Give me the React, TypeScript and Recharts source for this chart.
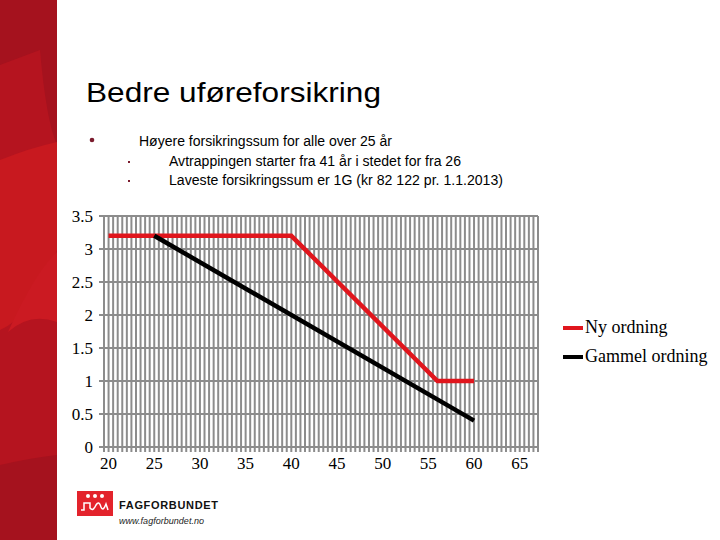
import { CartesianGrid, Legend, Line, LineChart, XAxis, YAxis } from "recharts";

// forsikringssum i G, etter alder
const nyOrdning = [
  { alder: 20, sum: 3.2 },
  { alder: 40, sum: 3.2 },
  { alder: 56, sum: 1 },
  { alder: 60, sum: 1 },
];

const gammelOrdning = [
  { alder: 25, sum: 3.2 },
  { alder: 60, sum: 0.4 },
];

const seriesNames = ["Ny ordning", "Gammel ordning"];
const xLabels = [20, 25, 30, 35, 40, 45, 50, 55, 60, 65];
const yTicks = [0, 0.5, 1, 1.5, 2, 2.5, 3, 3.5];
const xDomain: [number, number] = [19.5, 67];

// vertical grid every half year across the axis
const xGrid = Array.from(
  { length: (xDomain[1] - xDomain[0]) / 0.5 + 1 },
  (_, i) => xDomain[0] + i * 0.5
);

const bullets = [
  { text: "Høyere forsikringssum for alle over 25 år", level: 0 },
  { text: "Avtrappingen starter fra 41 år i stedet for fra 26", level: 1 },
  { text: "Laveste forsikringssum er 1G (kr 82 122 pr. 1.1.2013)", level: 1 },
];

const serif = '"Liberation Serif", "DejaVu Serif", serif';
const sans = '"Liberation Sans", Arial, sans-serif';
const gridColor = "#8c8c8c";

// axis labels drawn as html over the chart so the serif face is certain
function AxisLabels() {
  return null;
}

const renderXTick = (props: any) => {
  const { x, y, payload } = props;
  if (!xLabels.includes(payload.value)) return <g />;
  return (
    <g transform={`translate(${x},${y})`}>
      <text
        x={0}
        y={13}
        textAnchor="middle"
        fontFamily={serif}
        fontSize={17}
        fill="#000"
        style={{ fontFamily: serif }}
      >
        {String(payload.value)}
      </text>
    </g>
  );
};

const renderYTick = (props: any) => {
  const { x, y, payload } = props;
  return (
    <g transform={`translate(${x},${y})`}>
      <text
        x={0}
        y={6}
        textAnchor="end"
        fontFamily={serif}
        fontSize={17}
        fill="#000"
        style={{ fontFamily: serif }}
      >
        {String(payload.value)}
      </text>
    </g>
  );
};

const renderLegend = (props: any) => {
  const payload = [...props.payload].sort(
    (a: any, b: any) => seriesNames.indexOf(a.value) - seriesNames.indexOf(b.value)
  );
  return (
    <div style={{ fontFamily: serif, fontSize: 18, color: "#000" }}>
      {payload.map((entry: any) => (
        <div
          key={entry.value}
          style={{ display: "flex", alignItems: "center", height: 29, whiteSpace: "nowrap" }}
        >
          <span style={{ width: 20, height: 4, background: entry.color, marginRight: 2 }} />
          <span>{entry.value}</span>
        </div>
      ))}
    </div>
  );
};

function Slide() {
  const lineWidths = [253, 292, 334];
  const baselines = [146, 166, 185];
  return (
    <svg width={720} height={540} style={{ position: "absolute", left: 0, top: 0 }}>
      {/* left red band */}
      <rect x={0} y={0} width={57} height={540} fill="#a5121e" />
      <path d="M0,65 L40,50 Q46,120 57,145 L57,455 Q30,458 0,465 Z" fill="#b5141f" />
      <path d="M0,160 Q30,148 57,142 L57,250 Q30,318 0,330 Z" fill="#c8191f" />
      <path d="M8,332 Q35,272 57,252 L57,322 Q30,312 8,332 Z" fill="#cb1a22" />

      <text
        x={86}
        y={102}
        style={{ fontFamily: sans, fontSize: 28 }}
        fill="#000"
        textLength={295}
        lengthAdjust="spacingAndGlyphs"
      >
        Bedre uføreforsikring
      </text>

      {bullets.map((b, i) => (
        <g key={i}>
          {b.level === 0 ? (
            <circle cx={92} cy={baselines[i] - 6} r={2.3} fill="#7b1c2e" />
          ) : (
            <rect x={128} y={baselines[i] - 5} width={2} height={2} fill="#7b1c2e" />
          )}
          <text
            x={b.level === 0 ? 139 : 169}
            y={baselines[i]}
            style={{ fontFamily: sans, fontSize: 14 }}
            fill="#000"
            textLength={lineWidths[i]}
            lengthAdjust="spacingAndGlyphs"
          >
            {b.text}
          </text>
        </g>
      ))}

      {/* logo */}
      <rect x={77} y={491} width={36} height={25} fill="#e3232c" />
      <circle cx={88} cy={496} r={2} fill="#fff" />
      <circle cx={95} cy={496} r={2} fill="#fff" />
      <circle cx={102} cy={496} r={2} fill="#fff" />
      <path
        d="M81,510 L84,510 L84,503 L90,503 L90,508 Q93,512 96,505 Q99,500 101,507 Q103,512 106,504 L108,510"
        stroke="#fff"
        strokeWidth={1.5}
        fill="none"
      />
      <text
        x={119}
        y={509}
        style={{ fontFamily: sans, fontSize: 11, fontWeight: "bold" }}
        fill="#111"
        textLength={99}
        lengthAdjust="spacing"
      >
        FAGFORBUNDET
      </text>
      <text
        x={119}
        y={524}
        style={{ fontFamily: sans, fontSize: 9, fontStyle: "italic" }}
        fill="#222"
        textLength={85}
      >
        www.fagforbundet.no
      </text>
    </svg>
  );
}

export default function App() {
  return (
    <div
      style={{
        position: "absolute",
        left: 0,
        top: 0,
        width: 720,
        height: 540,
        background: "#fff",
        overflow: "hidden",
      }}
    >
      <Slide />
      <AxisLabels />
      <div style={{ position: "absolute", left: 0, top: 0, fontFamily: serif }}>
        <LineChart
          width={720}
          height={540}
          margin={{ top: 216, right: 182, bottom: 53, left: 60 }}
          style={{ fontFamily: serif }}
        >
          <CartesianGrid stroke={gridColor} strokeWidth={2} />
          <XAxis
            dataKey="alder"
            type="number"
            domain={xDomain}
            ticks={xGrid}
            interval={0}
            height={40}
            tick={renderXTick}
            tickSize={5}
            tickMargin={4}
            stroke={gridColor}
            strokeWidth={2}
          />
          <YAxis
            type="number"
            domain={[0, 3.5]}
            ticks={yTicks}
            interval={0}
            width={44}
            tick={renderYTick}
            tickSize={5}
            tickMargin={6}
            stroke={gridColor}
            strokeWidth={2}
          />
          <Legend
            layout="vertical"
            align="center"
            verticalAlign="middle"
            content={renderLegend}
            wrapperStyle={{ left: 563, top: 313, width: 160 }}
          />
          <Line
            data={nyOrdning}
            dataKey="sum"
            name="Ny ordning"
            type="linear"
            stroke="#e0161d"
            strokeWidth={4.5}
            dot={false}
            isAnimationActive={false}
          />
          <Line
            data={gammelOrdning}
            dataKey="sum"
            name="Gammel ordning"
            type="linear"
            stroke="#000"
            strokeWidth={4.5}
            dot={false}
            isAnimationActive={false}
          />
        </LineChart>
      </div>
    </div>
  );
}
